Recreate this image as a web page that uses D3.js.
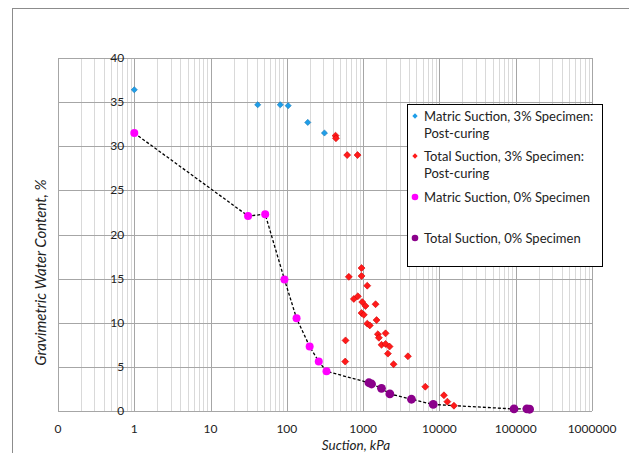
<!DOCTYPE html>
<html>
<head>
<meta charset="utf-8">
<script src="https://cdn.jsdelivr.net/npm/d3@7"></script>
<style>
  body { margin: 0; background: #fff; }
  svg { display: block; font-family: Lato, "Open Sans", sans-serif; }
</style>
</head>
<body>
<div id="chart"></div>
<script>
// matric suction, 3% specimen (post-curing)
const matric3Suction = [1, 41.5, 82, 104, 188, 311]
const matric3Water = [36.4, 34.7, 34.7, 34.6, 32.7, 31.5]

// total suction, 3% specimen (post-curing)
const total3Suction = [435, 440, 618, 845, 649, 953, 953, 1132, 755, 853, 973, 1075, 1455,
    953, 1021, 1132, 1224, 1500, 588, 1560, 1607, 1968, 1742, 1968, 2219, 2110, 3863,
    2506, 582, 6530, 11460, 12700, 15500]
const total3Water = [31.2, 30.9, 29.0, 29.0, 15.2, 16.2, 15.3, 14.2, 12.7, 13.0, 12.35, 11.9, 12.1,
    11.1, 10.9, 9.9, 9.7, 10.3, 8.0, 8.7, 8.3, 8.8, 7.5, 7.6, 7.3, 6.5, 6.2,
    5.3, 5.6, 2.75, 1.78, 1.06, 0.6]

// matric suction, 0% specimen
const matric0Suction = [1, 31, 52, 93, 134, 199, 262, 331]
const matric0Water = [31.5, 22.1, 22.3, 14.9, 10.5, 7.3, 5.6, 4.5]

// total suction, 0% specimen
const total0Suction = [1190, 1290, 1740, 2240, 4300, 8300, 95000, 140000, 152000]
const total0Water = [3.2, 3.06, 2.57, 1.93, 1.33, 0.74, 0.23, 0.25, 0.2]

const xTicks = [0.1, 1, 10, 100, 1000, 10000, 100000, 1000000]
const yTicks = [0, 5, 10, 15, 20, 25, 30, 35, 40]

const legendLabels = [
    ['Matric Suction, 3% Specimen:', 'Post-curing'],
    ['Total Suction, 3% Specimen:', 'Post-curing'],
    ['Matric Suction, 0% Specimen'],
    ['Total Suction, 0% Specimen']
]

const width = 629, height = 453
const svg = d3.select('#chart').append('svg')
    .attr('width', width)
    .attr('height', height)

// outer chart border
svg.append('rect')
    .attr('x', 12.5).attr('y', 8.5)
    .attr('width', 700).attr('height', 500)
    .attr('fill', 'none').attr('stroke', '#8c8c8c')

const x = d3.scaleLog().domain([0.1, 1e6]).range([58, 592])
const y = d3.scaleLinear().domain([0, 40]).range([411, 58])

// vertical gridlines, minor then major
const minor = []
for (let e = -1; e < 6; e++) {
    for (let m = 2; m <= 9; m++) minor.push(m * Math.pow(10, e))
}
svg.append('g').selectAll('line').data(minor).enter().append('line')
    .attr('x1', d => Math.round(x(d)) + 0.5).attr('x2', d => Math.round(x(d)) + 0.5)
    .attr('y1', y(40)).attr('y2', y(0))
    .attr('stroke', '#d9d9d9')
svg.append('g').selectAll('line').data(xTicks).enter().append('line')
    .attr('x1', d => Math.round(x(d)) + 0.5).attr('x2', d => Math.round(x(d)) + 0.5)
    .attr('y1', y(40)).attr('y2', y(0))
    .attr('stroke', '#a6a6a6')
svg.append('g').selectAll('line').data(yTicks).enter().append('line')
    .attr('x1', x(0.1)).attr('x2', x(1e6))
    .attr('y1', d => Math.round(y(d)) + 0.5).attr('y2', d => Math.round(y(d)) + 0.5)
    .attr('stroke', '#a6a6a6')

// y tick labels sit beside the axis at suction = 1
svg.append('g').selectAll('text').data(yTicks).enter().append('text')
    .attr('x', x(1) - 10)
    .attr('y', d => y(d) + 4)
    .attr('text-anchor', 'end')
    .attr('font-size', 12)
    .attr('fill', '#222')
    .text(d => d)

svg.append('g').selectAll('text').data(xTicks).enter().append('text')
    .attr('x', d => x(d))
    .attr('y', 432.5)
    .attr('text-anchor', 'middle')
    .attr('font-size', 12)
    .attr('fill', '#222')
    .text(d => d < 1 ? '0' : d3.format('d')(d))

svg.append('text')
    .attr('x', 356).attr('y', 450)
    .attr('text-anchor', 'middle')
    .attr('font-size', 13.5).attr('font-style', 'italic')
    .attr('fill', '#222')
    .text('Suction, kPa')

svg.append('text')
    .attr('transform', 'translate(46,' + ((y(0) + y(40)) / 2 + 38) + ') rotate(-90)')
    .attr('text-anchor', 'middle')
    .attr('font-size', 15).attr('font-style', 'italic')
    .attr('fill', '#222')
    .text('Gravimetric Water Content, %')

// dashed trend line through the 0% specimen points
const trendSuction = matric0Suction.concat(total0Suction)
const trendWater = matric0Water.concat(total0Water)
const line = d3.line().x(d => x(d[0])).y(d => y(d[1]))
svg.append('path')
    .attr('d', line(trendSuction.map((s, i) => [s, trendWater[i]])))
    .attr('fill', 'none')
    .attr('stroke', '#000')
    .attr('stroke-width', 1.3)
    .attr('stroke-dasharray', '3,2')

const diamond = d3.symbol().type(d3.symbolDiamond2)

function diamonds(sx, sy, size, fill, stroke) {
    svg.append('g').selectAll('path').data(sx).enter().append('path')
        .attr('transform', (d, i) => 'translate(' + x(d) + ',' + y(sy[i]) + ')')
        .attr('d', diamond.size(size)())
        .attr('fill', fill)
        .attr('stroke', stroke).attr('stroke-width', 0.6)
}
function circles(sx, sy, r, fill) {
    svg.append('g').selectAll('circle').data(sx).enter().append('circle')
        .attr('cx', d => x(d))
        .attr('cy', (d, i) => y(sy[i]))
        .attr('r', r)
        .attr('fill', fill)
}

circles(matric0Suction, matric0Water, 4, '#ff00ff')
circles(total0Suction, total0Water, 4.4, '#8b008b')
diamonds(matric3Suction, matric3Water, 24, '#1f9ee8', '#1577b5')
diamonds(total3Suction, total3Water, 31, '#ff1a1a', '#d40000')

// legend
const lg = svg.append('g')
lg.append('rect')
    .attr('x', 407.5).attr('y', 104.5)
    .attr('width', 195).attr('height', 162)
    .attr('fill', '#fff').attr('stroke', '#000')
const legendY = [116, 156, 197, 238]
const legendStyle = [
    {type: 'd', fill: '#1f9ee8'}, {type: 'd', fill: '#ff1a1a'},
    {type: 'c', fill: '#ff00ff'}, {type: 'c', fill: '#8b008b'}
]
legendLabels.forEach((lines, i) => {
    const st = legendStyle[i]
    if (st.type === 'd') {
        lg.append('path')
            .attr('transform', 'translate(415,' + legendY[i] + ')')
            .attr('d', diamond.size(18)())
            .attr('fill', st.fill)
    } else {
        lg.append('circle').attr('cx', 415).attr('cy', legendY[i]).attr('r', 3.3).attr('fill', st.fill)
    }
    lines.forEach((t, j) => {
        lg.append('text')
            .attr('x', 424)
            .attr('y', legendY[i] + 4.5 + j * 17.5)
            .attr('font-size', 13)
            .attr('fill', '#222')
            .text(t)
    })
})
</script>
</body>
</html>
